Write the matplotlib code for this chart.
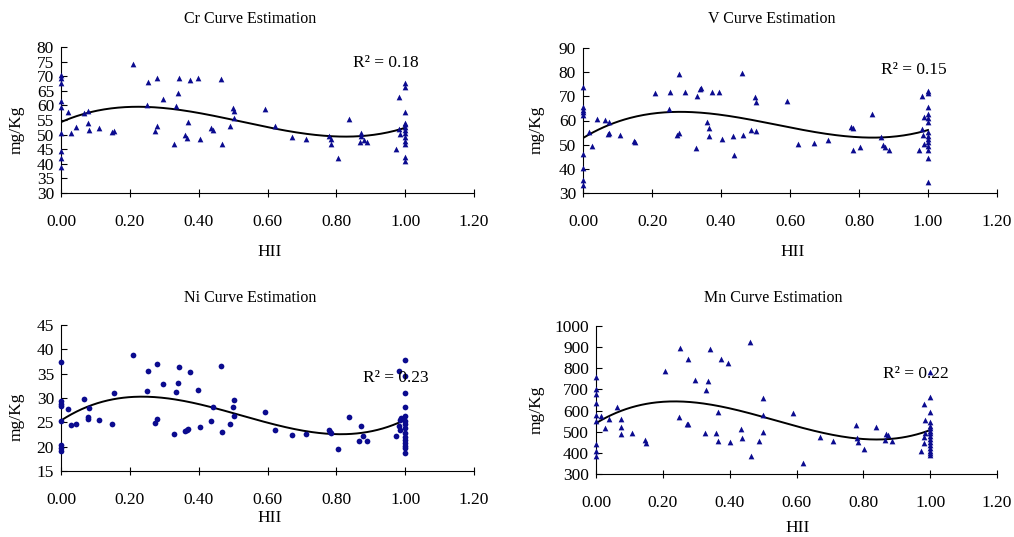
import numpy as np
import matplotlib.pyplot as plt
from matplotlib.ticker import FormatStrFormatter

plt.rcParams['font.family'] = ['Liberation Serif', 'DejaVu Serif']

# Cr
cr_hii = [0.0, 0.0, 0.0, 0.0, 0.0, 0.0, 0.0, 0.0, 0.0,
          0.019, 0.029, 0.044, 0.068, 0.077, 0.077, 0.080, 0.110, 0.149, 0.154,
          0.210, 0.251, 0.253, 0.274, 0.278, 0.279, 0.297, 0.329, 0.333, 0.339,
          0.343, 0.360, 0.366, 0.368, 0.376, 0.397, 0.405, 0.437, 0.441, 0.464,
          0.467, 0.490, 0.500, 0.503, 0.503, 0.593, 0.623, 0.671, 0.711, 0.780,
          0.784, 0.785, 0.806, 0.838, 0.868, 0.871, 0.872, 0.879, 0.888, 0.973,
          0.983, 0.983, 0.985,
          1.0, 1.0, 1.0, 1.0, 1.0, 1.0, 1.0, 1.0, 1.0, 1.0, 1.0, 1.0, 1.0]
cr_val = [70.4, 69.3, 67.8, 61.5, 59.6, 50.4, 44.4, 42.1, 39.0,
          57.8, 50.4, 52.7, 57.3, 54.1, 58.1, 51.6, 52.2, 50.9, 51.4,
          74.1, 60.1, 68.1, 51.4, 69.3, 52.9, 62.2, 46.9, 59.9, 64.4,
          69.5, 49.9, 48.7, 54.3, 68.8, 69.5, 48.6, 52.4, 51.7, 68.9,
          46.9, 52.9, 59.2, 58.2, 55.8, 58.7, 52.9, 49.1, 48.5, 49.4,
          48.6, 46.8, 42.0, 55.3, 47.4, 50.7, 49.6, 48.2, 47.6, 45.0,
          62.9, 51.8, 50.1,
          67.8, 66.2, 57.8, 54.1, 53.5, 52.5, 51.6, 50.7, 49.1, 47.7, 46.9, 42.2, 41.1]

# V
v_hii = [0.0, 0.0, 0.0, 0.0, 0.0, 0.0, 0.0, 0.0, 0.0,
         0.017, 0.027, 0.041, 0.065, 0.073, 0.075, 0.076, 0.108, 0.147, 0.152,
         0.208, 0.248, 0.251, 0.273, 0.277, 0.278, 0.296, 0.328, 0.331, 0.338,
         0.342, 0.360, 0.364, 0.366, 0.375, 0.395, 0.404, 0.436, 0.439, 0.462,
         0.465, 0.488, 0.499, 0.501, 0.502, 0.591, 0.622, 0.670, 0.710, 0.777,
         0.783, 0.782, 0.804, 0.837, 0.864, 0.869, 0.875, 0.887, 0.973, 0.983,
         0.983, 0.985, 0.987, 0.987,
         1.0, 1.0, 1.0, 1.0, 1.0, 1.0, 1.0, 1.0, 1.0, 1.0, 1.0, 1.0, 1.0, 1.0]
v_val = [73.7, 65.4, 64.5, 63.5, 62.4, 46.1, 40.3, 35.5, 33.2,
         55.2, 49.5, 60.6, 60.2, 54.3, 59.2, 54.7, 54.0, 51.6, 51.0,
         71.2, 64.8, 72.0, 54.1, 79.2, 54.9, 71.8, 48.7, 70.0, 73.0,
         73.4, 59.2, 56.9, 53.7, 71.6, 72.0, 52.2, 53.4, 45.9, 79.5,
         54.0, 56.2, 69.7, 67.5, 55.5, 68.1, 50.3, 50.8, 51.8, 57.3,
         56.9, 47.8, 49.0, 62.7, 53.3, 50.0, 49.0, 47.8, 47.8, 70.3,
         56.5, 54.1, 61.5, 50.4,
         72.3, 71.4, 65.4, 62.8, 60.9, 59.5, 55.1, 53.7, 52.3, 51.0, 49.6, 47.9, 44.6, 34.7]

# Ni
ni_hii = [0.0, 0.0, 0.0, 0.0, 0.0, 0.0, 0.0, 0.0,
          0.019, 0.029, 0.044, 0.067, 0.077, 0.077, 0.080, 0.110, 0.149, 0.154,
          0.210, 0.250, 0.253, 0.274, 0.278, 0.279, 0.297, 0.329, 0.333, 0.339,
          0.343, 0.360, 0.366, 0.368, 0.376, 0.397, 0.405, 0.437, 0.441, 0.464,
          0.467, 0.490, 0.500, 0.502, 0.502, 0.593, 0.623, 0.671, 0.711, 0.778,
          0.783, 0.785, 0.805, 0.838, 0.866, 0.871, 0.878, 0.888, 0.974, 0.983,
          0.983, 0.985, 0.986, 0.988,
          1.0, 1.0, 1.0, 1.0, 1.0, 1.0, 1.0, 1.0, 1.0, 1.0, 1.0, 1.0, 1.0, 1.0, 1.0]
ni_val = [37.3, 29.3, 28.8, 28.3, 25.2, 20.4, 19.8, 19.2,
          27.7, 24.5, 24.6, 29.7, 26.0, 25.6, 27.9, 25.5, 24.6, 31.0,
          38.9, 31.4, 35.5, 24.8, 37.0, 25.7, 32.8, 22.7, 31.3, 33.1,
          36.3, 23.2, 23.5, 23.6, 35.3, 31.6, 24.1, 25.2, 28.2, 36.5,
          23.1, 24.6, 28.1, 29.5, 26.4, 27.1, 23.5, 22.3, 22.6, 23.4,
          23.1, 22.8, 19.6, 26.0, 21.2, 24.3, 22.2, 21.2, 22.2, 35.5,
          24.2, 23.5, 25.5, 25.9,
          37.9, 34.6, 31.0, 28.2, 26.2, 25.2, 24.7, 23.9, 22.8, 22.0, 21.3, 20.8, 20.2, 19.8, 18.6]

# Mn
mn_hii = [0.0, 0.0, 0.0, 0.0, 0.0, 0.0, 0.0, 0.0, 0.0,
          0.016, 0.026, 0.040, 0.064, 0.074, 0.075, 0.076, 0.107, 0.146, 0.151,
          0.207, 0.247, 0.250, 0.273, 0.276, 0.276, 0.295, 0.326, 0.330, 0.336,
          0.340, 0.358, 0.365, 0.364, 0.373, 0.395, 0.402, 0.434, 0.438, 0.461,
          0.464, 0.487, 0.501, 0.499, 0.501, 0.589, 0.619, 0.670, 0.710, 0.779,
          0.781, 0.783, 0.803, 0.837, 0.866, 0.868, 0.874, 0.887, 0.972, 0.981,
          0.981, 0.983, 0.984, 0.985,
          1.0, 1.0, 1.0, 1.0, 1.0, 1.0, 1.0, 1.0, 1.0, 1.0, 1.0, 1.0, 1.0, 1.0, 1.0, 1.0]
mn_val = [757, 702, 678, 636, 579, 551, 442, 410, 387,
          574, 516, 562, 617, 524, 562, 489, 495, 461, 448,
          789, 568, 897, 535, 535, 844, 743, 492, 696, 738,
          891, 492, 593, 458, 845, 823, 451, 513, 472, 923,
          387, 456, 661, 579, 497, 590, 353, 476, 458, 530,
          472, 451, 418, 524, 461, 488, 484, 458, 407, 633,
          476, 445, 555, 495,
          781, 663, 593, 547, 527, 516, 503, 492, 480, 467, 453, 437, 424, 410, 401, 390]

x_ticks = [0.0, 0.2, 0.4, 0.6, 0.8, 1.0, 1.2]
blue = '#0b0b8f'


def draw_panel(ax, hii, vals, marker, yticks, r2_text, r2_pos):
    ax.scatter(hii, vals, marker=marker, s=17, color=blue, zorder=3,
               linewidths=0, clip_on=False)
    coef = np.polyfit(hii, vals, 3)
    xs = np.linspace(0, 1, 200)
    ax.plot(xs, np.polyval(coef, xs), color='black', lw=1.4, zorder=2)
    ax.set_xlim(0, 1.2)
    ax.set_ylim(yticks[0], yticks[-1])
    ax.set_xticks(x_ticks)
    ax.set_yticks(yticks)
    ax.xaxis.set_major_formatter(FormatStrFormatter('%.2f'))
    ax.spines['top'].set_visible(False)
    ax.spines['right'].set_visible(False)
    ax.tick_params(axis='x', direction='inout', length=6, pad=12, labelsize=12.5)
    ax.tick_params(axis='y', direction='in', length=4, pad=5, labelsize=12.5)
    ax.text(r2_pos[0], r2_pos[1], r2_text, fontsize=12.5, ha='left', va='center')


fig = plt.figure(figsize=(10.14, 5.37), dpi=100)
W, H = 1014, 537


def add_axes(left, right, top, bottom):
    return fig.add_axes([left / W, 1 - bottom / H, (right - left) / W, (bottom - top) / H])


ax1 = add_axes(61, 474, 47, 193)
draw_panel(ax1, cr_hii, cr_val, '^', [30, 35, 40, 45, 50, 55, 60, 65, 70, 75, 80],
           'R² = 0.18', (0.849, 74.5))
ax2 = add_axes(583, 997, 48, 193)
draw_panel(ax2, v_hii, v_val, '^', [30, 40, 50, 60, 70, 80, 90],
           'R² = 0.15', (0.863, 80.9))
ax3 = add_axes(61, 474, 325, 471)
draw_panel(ax3, ni_hii, ni_val, 'o', [15, 20, 25, 30, 35, 40, 45],
           'R² = 0.23', (0.878, 34.2))
ax4 = add_axes(596, 997, 326, 474)
draw_panel(ax4, mn_hii, mn_val, '^', [300, 400, 500, 600, 700, 800, 900, 1000],
           'R² = 0.22', (0.859, 773))

titles = ['Cr Curve Estimation', 'V Curve Estimation', 'Ni Curve Estimation', 'Mn Curve Estimation']
title_xy = [(250, 19), (772, 19), (250, 298), (773, 298)]
hii_xy = [(270, 252), (793, 252), (270, 518), (798, 528)]
ylab_xy = [(17, 130), (537, 130), (17, 417), (537, 410)]
for t, (tx, ty), (hx, hy), (lx, ly) in zip(titles, title_xy, hii_xy, ylab_xy):
    fig.text(tx / W, 1 - ty / H, t, fontsize=11.5, ha='center', va='center')
    fig.text(hx / W, 1 - hy / H, 'HII', fontsize=12.5, ha='center', va='center')
    fig.text(lx / W, 1 - ly / H, 'mg/Kg', fontsize=12.5, ha='center', va='center', rotation=90)

fig.savefig('out.png', dpi=100)
